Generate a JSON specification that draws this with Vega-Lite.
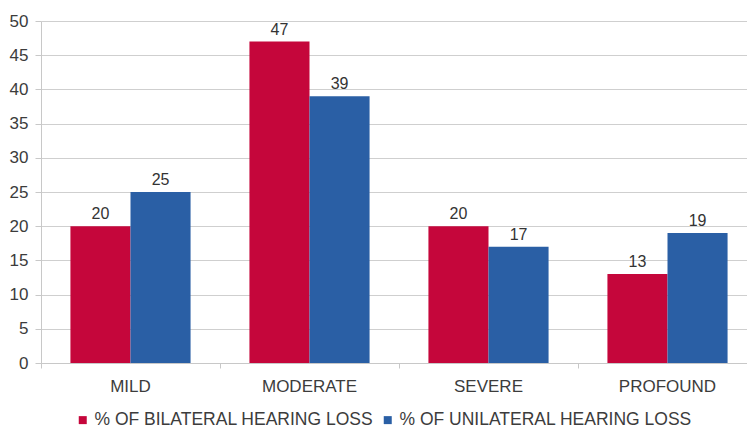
{
  "$schema": "https://vega.github.io/schema/vega-lite/v6.json",
  "width": 716,
  "height": 342,
  "padding": {"left": 9, "top": 12, "right": 0, "bottom": 0},
  "background": "white",
  "data": {
    "values": [
      {"degree": "MILD", "group": "% OF BILATERAL HEARING LOSS", "pct": 20},
      {"degree": "MILD", "group": "% OF UNILATERAL HEARING LOSS", "pct": 25},
      {"degree": "MODERATE", "group": "% OF BILATERAL HEARING LOSS", "pct": 47},
      {"degree": "MODERATE", "group": "% OF UNILATERAL HEARING LOSS", "pct": 39},
      {"degree": "SEVERE", "group": "% OF BILATERAL HEARING LOSS", "pct": 20},
      {"degree": "SEVERE", "group": "% OF UNILATERAL HEARING LOSS", "pct": 17},
      {"degree": "PROFOUND", "group": "% OF BILATERAL HEARING LOSS", "pct": 13},
      {"degree": "PROFOUND", "group": "% OF UNILATERAL HEARING LOSS", "pct": 19}
    ]
  },
  "encoding": {
    "x": {
      "field": "degree",
      "type": "nominal",
      "sort": ["MILD", "MODERATE", "SEVERE", "PROFOUND"],
      "scale": {"paddingInner": 0, "paddingOuter": 0},
      "axis": {
        "title": null,
        "labelAngle": 0,
        "bandPosition": 0,
        "tickSize": 5,
        "labelPadding": 10,
        "domainColor": "#c8c8c8",
        "tickColor": "#c8c8c8",
        "labelFontSize": 17,
        "labelColor": "#3c3c3c",
        "labelFont": "Liberation Sans"
      }
    },
    "xOffset": {
      "field": "group",
      "type": "nominal",
      "scale": {"paddingInner": 0, "paddingOuter": 0.49}
    },
    "y": {
      "field": "pct",
      "type": "quantitative",
      "scale": {"domain": [0, 50]},
      "axis": {
        "title": null,
        "values": [0, 5, 10, 15, 20, 25, 30, 35, 40, 45, 50],
        "tickSize": 6,
        "labelPadding": 7,
        "gridColor": "#cfcfcf",
        "domainColor": "#c8c8c8",
        "tickColor": "#c8c8c8",
        "labelFontSize": 17,
        "labelColor": "#3c3c3c",
        "labelFont": "Liberation Sans"
      }
    }
  },
  "layer": [
    {
      "mark": {"type": "bar"},
      "encoding": {
        "color": {
          "field": "group",
          "type": "nominal",
          "scale": {"range": ["#c5063b", "#2a5fa5"]},
          "legend": {
            "title": null,
            "orient": "none",
            "direction": "horizontal",
            "legendX": 33,
            "legendY": 390,
            "symbolType": "square",
            "symbolSize": 64,
            "symbolStrokeWidth": 0,
            "labelFontSize": 17.5,
            "labelFont": "Liberation Sans",
            "labelColor": "#3c3c3c",
            "labelLimit": 0,
            "labelOffset": 3,
            "columnPadding": 5
          }
        }
      }
    },
    {
      "mark": {"type": "text", "baseline": "alphabetic", "dy": -7, "fontSize": 16, "font": "Liberation Sans", "color": "#333333"},
      "encoding": {
        "text": {"field": "pct", "type": "quantitative"}
      }
    }
  ],
  "config": {
    "view": {"stroke": null}
  }
}
